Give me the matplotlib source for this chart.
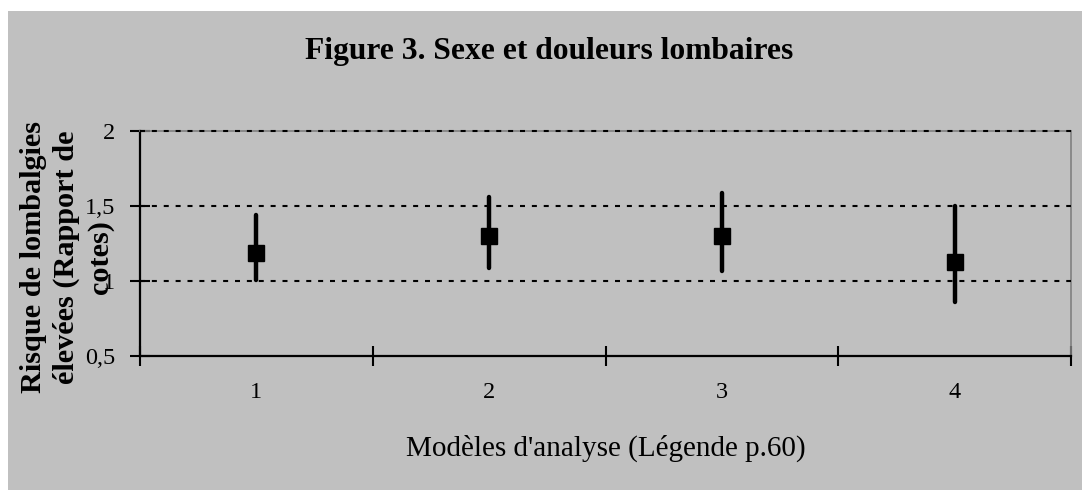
import matplotlib
matplotlib.use("Agg")
import matplotlib.pyplot as plt
from matplotlib.patches import Rectangle
from matplotlib.ticker import FixedLocator

# données
modeles = [1, 2, 3, 4]
rapport_cotes = [1.19, 1.30, 1.30, 1.13]
ic_bas = [1.01, 1.09, 1.07, 0.86]
ic_haut = [1.44, 1.56, 1.59, 1.50]
y_ticks = [0.5, 1.0, 1.5, 2.0]
y_labels = ["0,5", "1", "1,5", "2"]

gris = "#C0C0C0"
plt.rcParams["font.family"] = ["Liberation Serif", "DejaVu Serif"]

fig = plt.figure(figsize=(10.82, 4.9), dpi=100)
fig.patch.set_facecolor("white")
fig.add_artist(Rectangle((8 / 1082, 0), 1, 1 - 11 / 490, transform=fig.transFigure,
                         facecolor=gris, edgecolor="none", zorder=-10))

ax = fig.add_axes([140 / 1082, 1 - 356 / 490, 931 / 1082, 225 / 490])
ax.set_facecolor(gris)

# intervalles de confiance + rapports de cotes
ax.vlines(modeles, ic_bas, ic_haut, colors="black", linewidth=3.2, capstyle="round", zorder=3)
ax.plot(modeles, rapport_cotes, linestyle="none", marker="s", markersize=11.5,
        color="black", zorder=4)

ax.set_xlim(0.5, 4.5)
ax.set_ylim(0.5, 2.0)

# grille pointillée
for y in y_ticks[1:]:
    ax.axhline(y, color="black", linestyle=(0, (2.4, 3.3)), linewidth=1.5,
               zorder=2.6, clip_on=False)

ax.set_yticks(y_ticks)
ax.set_yticklabels(y_labels)
ax.xaxis.set_major_locator(FixedLocator([0.5, 1.5, 2.5, 3.5, 4.5]))
ax.xaxis.set_minor_locator(FixedLocator(modeles))
ax.set_xticklabels([])
ax.set_xticklabels([str(m) for m in modeles], minor=True)
ax.tick_params(axis="x", which="major", direction="inout", length=14, width=1.5)
ax.tick_params(axis="x", which="minor", length=0, pad=19, labelsize=17.5)
ax.tick_params(axis="y", direction="inout", length=14, width=1.5, pad=11, labelsize=17.5)

for s in ["left", "bottom"]:
    ax.spines[s].set_color("black")
    ax.spines[s].set_linewidth(1.6)
for s in ["top", "right"]:
    ax.spines[s].set_color("#808080")
    ax.spines[s].set_linewidth(1.2)

fig.text(549 / 1082, 1 - 52 / 490, "Figure 3. Sexe et douleurs lombaires",
         ha="center", va="center", fontsize=22.7, fontweight="bold")
fig.text(606 / 1082, 1 - 448 / 490, "Modèles d'analyse (Légende p.60)",
         ha="center", va="center", fontsize=21)
fig.text(67 / 1082, 1 - 257 / 490, "Risque de lombalgies\nélevées (Rapport de\ncotes)",
         ha="center", va="center", rotation=90, fontsize=21.8, fontweight="bold",
         linespacing=1.3, multialignment="center")

fig.savefig("out.png", dpi=100, facecolor=fig.get_facecolor())
